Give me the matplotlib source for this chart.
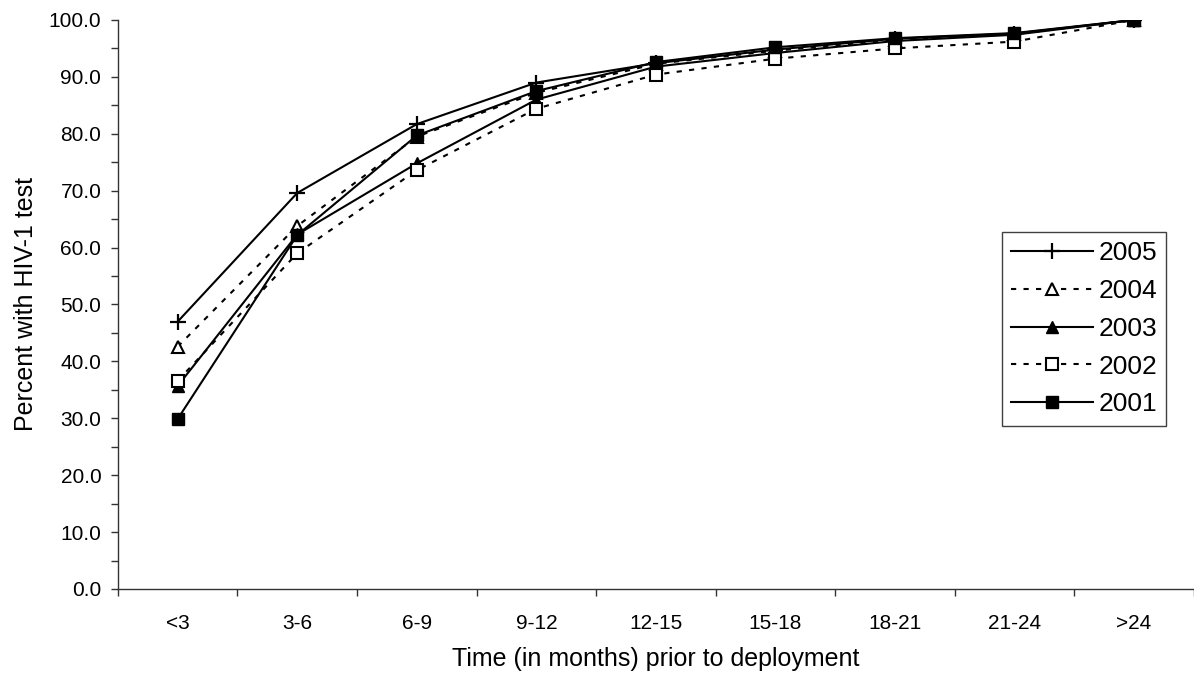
import numpy as np
import matplotlib
matplotlib.use("Agg")
import matplotlib.pyplot as plt
from matplotlib.ticker import FixedLocator, MultipleLocator, FormatStrFormatter

plt.rcParams['font.family'] = ['Liberation Sans', 'DejaVu Sans']

# Data (percent with HIV-1 test)
categories = ['<3', '3-6', '6-9', '9-12', '12-15', '15-18', '18-21', '21-24', '>24']
y2005 = [47.0, 69.6, 81.7, 89.0, 92.4, 94.8, 96.7, 97.6, 100.0]
y2004 = [42.6, 63.8, 79.5, 87.2, 92.3, 94.6, 96.5, 97.5, 100.0]
y2003 = [35.7, 62.3, 74.8, 86.0, 91.8, 94.2, 96.3, 97.4, 100.0]
y2002 = [36.6, 59.0, 73.6, 84.4, 90.4, 93.2, 95.0, 96.2, 100.0]
y2001 = [29.9, 62.2, 79.7, 87.5, 92.6, 95.2, 96.8, 97.7, 100.0]

x = np.arange(len(categories))
dots = (0, (2.5, 3.5))

fig = plt.figure(figsize=(11.94, 6.77), dpi=100)
ax = fig.add_axes([0.0988, 0.130, 0.901, 0.8405])

ax.plot(x, y2005, color='black', lw=1.5, ls='-', marker='+', ms=11, mew=1.6, label='2005')
ax.plot(x, y2004, color='black', lw=1.5, ls=dots, marker='^', ms=9, mfc='white', mec='black', mew=1.5, label='2004')
ax.plot(x, y2003, color='black', lw=1.5, ls='-', marker='^', ms=9, mfc='black', mec='black', label='2003')
ax.plot(x, y2002, color='black', lw=1.5, ls=dots, marker='s', ms=8.5, mfc='white', mec='black', mew=1.5, label='2002')
ax.plot(x, y2001, color='black', lw=1.5, ls='-', marker='s', ms=8.5, mfc='black', mec='black', label='2001')

ax.set_xlim(-0.5, len(categories) - 0.5)
ax.set_ylim(0, 100)

# x: tick marks between categories, labels at category centres
ax.xaxis.set_major_locator(FixedLocator(np.arange(-0.5, len(categories), 1.0)))
ax.xaxis.set_major_formatter(plt.NullFormatter())
ax.xaxis.set_minor_locator(FixedLocator(x))
ax.set_xticklabels(categories, minor=True)
ax.tick_params(axis='x', which='major', direction='out', length=5, width=1, color='#333333')
ax.tick_params(axis='x', which='minor', length=0, pad=18, labelsize=15)

ax.yaxis.set_major_locator(MultipleLocator(10))
ax.yaxis.set_minor_locator(MultipleLocator(5))
ax.yaxis.set_major_formatter(FormatStrFormatter('%.1f'))
ax.tick_params(axis='y', which='both', direction='out', length=5, width=1, color='#333333')
ax.tick_params(axis='y', which='major', pad=7, labelsize=15)

for s in ['top', 'right']:
    ax.spines[s].set_visible(False)
for s in ['left', 'bottom']:
    ax.spines[s].set_color('#333333')
    ax.spines[s].set_linewidth(1)

ax.set_xlabel('Time (in months) prior to deployment', fontsize=18, labelpad=10)
ax.set_ylabel('Percent with HIV-1 test', fontsize=18, labelpad=8)

leg = ax.legend(loc='upper left', bbox_to_anchor=(0.8216, 0.627), fontsize=19,
                handlelength=3.1, handletextpad=0.2, labelspacing=0.52,
                borderpad=0.35, borderaxespad=0, fancybox=False, framealpha=1)
leg.get_frame().set_edgecolor('#404040')
leg.get_frame().set_linewidth(1)

fig.savefig('out.png', dpi=100)
